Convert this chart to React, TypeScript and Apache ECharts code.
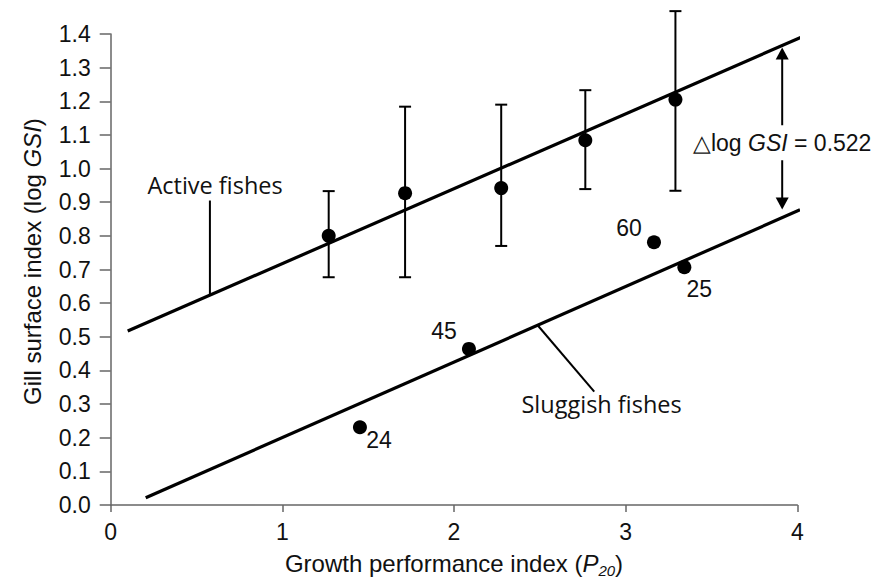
import React, { useEffect, useRef } from "react";
import * as echarts from "echarts";

// ---- data ----
const xTicks = [0, 1, 2, 3, 4];
const yTickStep = 0.1;
const activeX = [1.27, 1.715, 2.275, 2.765, 3.29];
const activeY = [0.8, 0.927, 0.942, 1.084, 1.205];
const activeLow = [0.677, 0.677, 0.77, 0.939, 0.934];
const activeHigh = [0.933, 1.184, 1.19, 1.233, 1.468];
const sluggishIds = ["24", "45", "60", "25"];
const sluggishX = [1.452, 2.087, 3.165, 3.342];
const sluggishY = [0.231, 0.464, 0.781, 0.707];
const activeFitX = [0.099, 4.03];
const activeFitY = [0.517, 1.392];
const sluggishFitX = [0.204, 4.016];
const sluggishFitY = [0.0215, 0.8775];
const deltaLogGSI = 0.522;

// ---- layout / style ----
const FONT = "Liberation Sans";
const LABEL_FONT = "Open Sans";
const TXT = "#111";
const sluggishLabelOffsets = [
  [19, 13],
  [-25, -18],
  [-25, -14],
  [15, 22],
];
const annot = {
  activeLeader: [
    [0.578, 0.905],
    [0.578, 0.624],
  ],
  activeLabel: [0.608, 0.952],
  sluggishLeader: [
    [2.491, 0.532],
    [2.817, 0.337],
  ],
  sluggishLabel: [2.393, 0.299],
  arrowX: 3.912,
  arrowLow: 0.878,
  arrowHigh: 1.36,
  deltaLabelY: 1.077,
};

export default function App() {
  const ref = useRef<HTMLDivElement>(null);
  useEffect(() => {
    if (!ref.current) return;
    const chart = echarts.init(ref.current, undefined, { renderer: "svg" });

    const activeData = activeX.map((x, i) => [x, activeY[i]]);
    const errData = activeX.map((x, i) => [x, activeLow[i], activeHigh[i]]);
    const sluggishData = sluggishX.map((x, i) => ({
      value: [x, sluggishY[i]],
      name: sluggishIds[i],
      label: { offset: sluggishLabelOffsets[i] },
    }));

    const option: any = {
      animation: false,
      backgroundColor: "#fff",
      grid: { left: 110.7, right: 82.7, top: 34, bottom: 74.7 },
      xAxis: {
        type: "value",
        min: xTicks[0],
        max: xTicks[xTicks.length - 1],
        interval: 1,
        splitLine: { show: false },
        axisLine: { lineStyle: { color: "#666", width: 1.5 } },
        axisTick: { show: true, length: 7, lineStyle: { color: "#666", width: 1.5 } },
        axisLabel: { fontSize: 23, fontFamily: FONT, color: TXT, margin: 15 },
        name: "Growth performance index ({p|P}{s|20})",
        nameLocation: "middle",
        nameGap: 44,
        nameTextStyle: {
          fontSize: 24,
          fontFamily: FONT,
          color: TXT,
          rich: {
            p: { fontSize: 24, fontFamily: FONT, fontStyle: "italic", color: TXT },
            s: {
              fontSize: 15,
              fontFamily: FONT,
              fontStyle: "italic",
              color: TXT,
              padding: [14, 0, 0, 0],
            },
          },
        },
      },
      yAxis: {
        type: "value",
        min: 0,
        max: 1.4,
        interval: yTickStep,
        splitLine: { show: false },
        axisLine: { show: true, lineStyle: { color: "#666", width: 1.5 } },
        axisTick: { show: true, length: 11, lineStyle: { color: "#666", width: 1.5 } },
        axisLabel: {
          fontSize: 23,
          fontFamily: FONT,
          color: TXT,
          margin: 20,
          formatter: (v: number) => v.toFixed(1),
        },
        name: "Gill surface index (log {i|GSI})",
        nameLocation: "middle",
        nameGap: 66,
        nameTextStyle: {
          fontSize: 24,
          fontFamily: FONT,
          color: TXT,
          padding: [0, 0, 0, 16],
          rich: {
            i: { fontSize: 24, fontFamily: FONT, fontStyle: "italic", color: TXT },
          },
        },
      },
      series: [
        {
          type: "line",
          data: activeFitX.map((x, i) => [x, activeFitY[i]]),
          showSymbol: false,
          clip: false,
          lineStyle: { color: "#000", width: 3.2 },
          silent: true,
          z: 2,
        },
        {
          type: "line",
          data: sluggishFitX.map((x, i) => [x, sluggishFitY[i]]),
          showSymbol: false,
          clip: false,
          lineStyle: { color: "#000", width: 3.2 },
          silent: true,
          z: 2,
        },
        {
          type: "custom",
          data: errData,
          clip: false,
          z: 3,
          renderItem: (_p: any, api: any) => {
            const x = api.value(0);
            const lo = api.coord([x, api.value(1)]);
            const hi = api.coord([x, api.value(2)]);
            const cap = 6;
            const st = { stroke: "#000", lineWidth: 2 };
            return {
              type: "group",
              children: [
                { type: "line", shape: { x1: lo[0], y1: lo[1], x2: hi[0], y2: hi[1] }, style: st },
                { type: "line", shape: { x1: lo[0] - cap, y1: lo[1], x2: lo[0] + cap, y2: lo[1] }, style: st },
                { type: "line", shape: { x1: hi[0] - cap, y1: hi[1], x2: hi[0] + cap, y2: hi[1] }, style: st },
              ],
            };
          },
        },
        {
          type: "scatter",
          data: activeData,
          symbolSize: 14,
          itemStyle: { color: "#000", opacity: 1 },
          z: 4,
        },
        {
          type: "scatter",
          data: sluggishData,
          symbolSize: 14,
          itemStyle: { color: "#000", opacity: 1 },
          z: 4,
          label: {
            show: true,
            position: "inside",
            formatter: (p: any) => p.name,
            fontSize: 23,
            fontFamily: FONT,
            color: TXT,
            opacity: 1,
          },
        },
        {
          type: "custom",
          data: [[0, 0]],
          clip: false,
          silent: true,
          z: 5,
          renderItem: (_p: any, api: any) => {
            const a1 = api.coord(annot.activeLeader[0]);
            const a2 = api.coord(annot.activeLeader[1]);
            const s1 = api.coord(annot.sluggishLeader[0]);
            const s2 = api.coord(annot.sluggishLeader[1]);
            const al = api.coord(annot.activeLabel);
            const sl = api.coord(annot.sluggishLabel);
            const top = api.coord([annot.arrowX, annot.arrowHigh]);
            const bot = api.coord([annot.arrowX, annot.arrowLow]);
            const mid = api.coord([annot.arrowX, annot.deltaLabelY]);
            const ah = 12;
            const aw = 6.5;
            const st = { stroke: "#000", lineWidth: 2 };
            return {
              type: "group",
              children: [
                { type: "line", shape: { x1: a1[0], y1: a1[1], x2: a2[0], y2: a2[1] }, style: st },
                { type: "line", shape: { x1: s1[0], y1: s1[1], x2: s2[0], y2: s2[1] }, style: st },
                {
                  type: "text",
                  x: al[0],
                  y: al[1],
                  style: {
                    text: "Active fishes",
                    fontSize: 23.5,
                    fontFamily: LABEL_FONT,
                    fill: TXT,
                    align: "center",
                    verticalAlign: "middle",
                  },
                },
                {
                  type: "text",
                  x: sl[0],
                  y: sl[1],
                  style: {
                    text: "Sluggish fishes",
                    fontSize: 23.5,
                    fontFamily: LABEL_FONT,
                    fill: TXT,
                    align: "left",
                    verticalAlign: "middle",
                  },
                },
                { type: "line", shape: { x1: top[0], y1: top[1] + 4, x2: bot[0], y2: bot[1] - 4 }, style: st },
                {
                  type: "polygon",
                  shape: { points: [[top[0], top[1]], [top[0] - aw, top[1] + ah], [top[0] + aw, top[1] + ah]] },
                  style: { fill: "#000" },
                },
                {
                  type: "polygon",
                  shape: { points: [[bot[0], bot[1]], [bot[0] - aw, bot[1] - ah], [bot[0] + aw, bot[1] - ah]] },
                  style: { fill: "#000" },
                },
                {
                  type: "text",
                  x: mid[0],
                  y: mid[1],
                  style: {
                    text: `△log {i|GSI} = ${deltaLogGSI.toFixed(3)}`,
                    fontSize: 23,
                    fontFamily: FONT,
                    fill: TXT,
                    align: "center",
                    verticalAlign: "middle",
                    backgroundColor: "#fff",
                    padding: [6, 2, 6, 2],
                    rich: {
                      i: { fontSize: 23, fontFamily: FONT, fontStyle: "italic", fill: TXT },
                    },
                  },
                },
              ],
            };
          },
        },
      ],
    };
    chart.setOption(option);
    return () => chart.dispose();
  }, []);

  return (
    <div
      ref={ref}
      style={{ position: "absolute", left: 0, top: 0, width: 880, height: 583, background: "#fff" }}
    />
  );
}
